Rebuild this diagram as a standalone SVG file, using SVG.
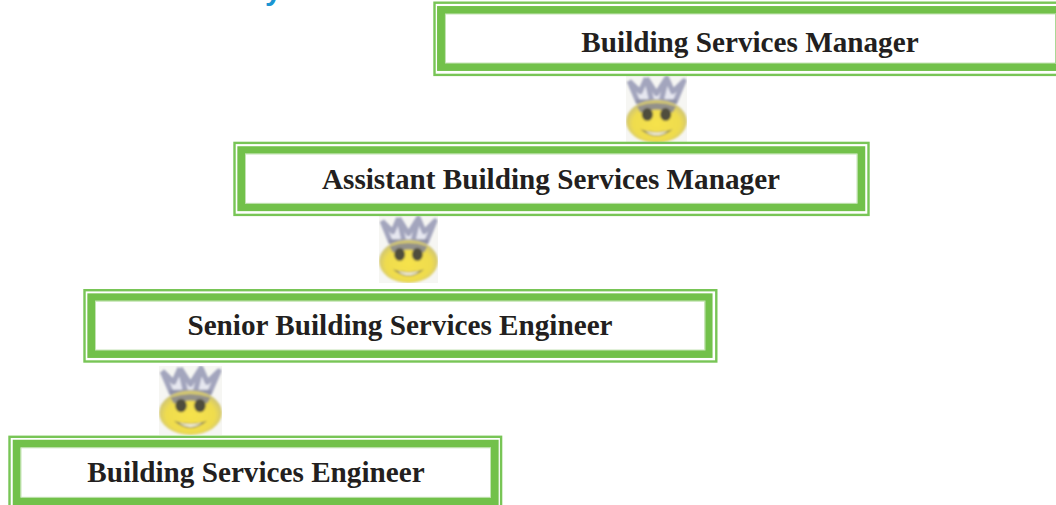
<svg xmlns="http://www.w3.org/2000/svg" width="1056" height="505" viewBox="0 0 1056 505">
<style>
.thin{fill:none;stroke:#78c556;stroke-width:2.4}
.thick{fill:#fff;stroke:#72c14a;stroke-width:7.9}
.edge{fill:none;stroke:#c4e3b4;stroke-width:1}
.label{font-family:"Liberation Serif","Times New Roman",serif;font-weight:700;font-size:29.2px;fill:#231f20;text-anchor:middle}
.head{font-family:"Liberation Sans",Arial,sans-serif;font-weight:700;font-size:30px;fill:#1b95d2}
</style>
<defs>
<filter id="soft" x="-10%" y="-10%" width="120%" height="120%"><feGaussianBlur stdDeviation="1.1"/></filter>
<clipPath id="tile"><rect width="60" height="68"/></clipPath>
<radialGradient id="face" cx="50%" cy="55%" r="55%">
<stop offset="0" stop-color="#f6e24c"/><stop offset=".7" stop-color="#efdc4e"/><stop offset="1" stop-color="#c9c07e"/>
</radialGradient>
<symbol id="smiley" viewBox="0 0 60 68" preserveAspectRatio="none">
<g clip-path="url(#tile)">
<rect width="60" height="68" fill="#f6f6f3"/>
<g filter="url(#soft)">
<path d="M3,5 L11,30 H49 L57,5 L46,16 L40,2 L30,14 L20,2 L14,16Z" fill="#e6e7f0"/>
<path d="M3,5 L12,27 M20,2 L14,16 L3,5 M20,2 L30,18 L40,2 L46,16 L57,5 L48,27 M20,2 L25,24 M40,2 L35,24" fill="none" stroke="#a3a5bd" stroke-width="5" stroke-linejoin="round"/>
<path d="M10,26 H50" stroke="#9092a8" stroke-width="5"/>
<ellipse cx="30" cy="46" rx="30" ry="22" fill="url(#face)"/>
<path d="M11,31 Q30,24 49,31 L46,37 Q30,31 14,37Z" fill="#93918a"/>
<ellipse cx="21" cy="39" rx="5.5" ry="6.5" fill="#4f4d3c"/>
<ellipse cx="39" cy="39" rx="5.5" ry="6.5" fill="#4f4d3c"/>
<path d="M14,54 Q30,60 46,54 Q30,68 14,54Z" fill="#8d8557"/>
<path d="M19,56 Q30,59 41,56 Q30,64 19,56Z" fill="#fbf8df"/>
</g>
</g>
</symbol>
</defs>
<rect width="1056" height="505" fill="#fff"/>
<text class="head" x="265" y="0">y</text>
<g id="connectors">
<use href="#smiley" x="626" y="76" width="61" height="67"/>
<use href="#smiley" x="379" y="216" width="59" height="67"/>
<use href="#smiley" x="159" y="366" width="63" height="69"/>
</g>
<g id="node-manager">
<rect class="thin" x="434.5" y="2.7" width="640" height="72.2"/>
<rect class="thick" x="441" y="10" width="630" height="57"/>
<rect class="edge" x="445.5" y="14" width="640" height="49"/>
<path d="M1055.5,13.5V64" stroke="#a9d896" stroke-width="1" fill="none"/>
<text class="label" x="750" y="52">Building Services Manager</text>
</g>
<g id="node-assistant">
<rect class="thin" x="234.5" y="142.9" width="634" height="72"/>
<rect class="thick" x="241.3" y="150.2" width="620" height="57"/>
<rect class="edge" x="245.5" y="153.8" width="611.5" height="49.5"/>
<text class="label" x="551" y="189">Assistant Building Services Manager</text>
</g>
<g id="node-senior">
<rect class="thin" x="84.5" y="290.2" width="631.8" height="71.3"/>
<rect class="thick" x="91.3" y="297.3" width="617.3" height="56.7"/>
<rect class="edge" x="95.5" y="301" width="609.5" height="49"/>
<text class="label" x="400" y="335">Senior Building Services Engineer</text>
</g>
<g id="node-engineer">
<rect class="thin" x="9.5" y="436.8" width="491.6" height="80"/>
<rect class="thick" x="16.7" y="443.7" width="478" height="57.5"/>
<rect class="edge" x="21" y="447.8" width="469.5" height="49.5"/>
<text class="label" x="256" y="482">Building Services Engineer</text>
</g>
</svg>
